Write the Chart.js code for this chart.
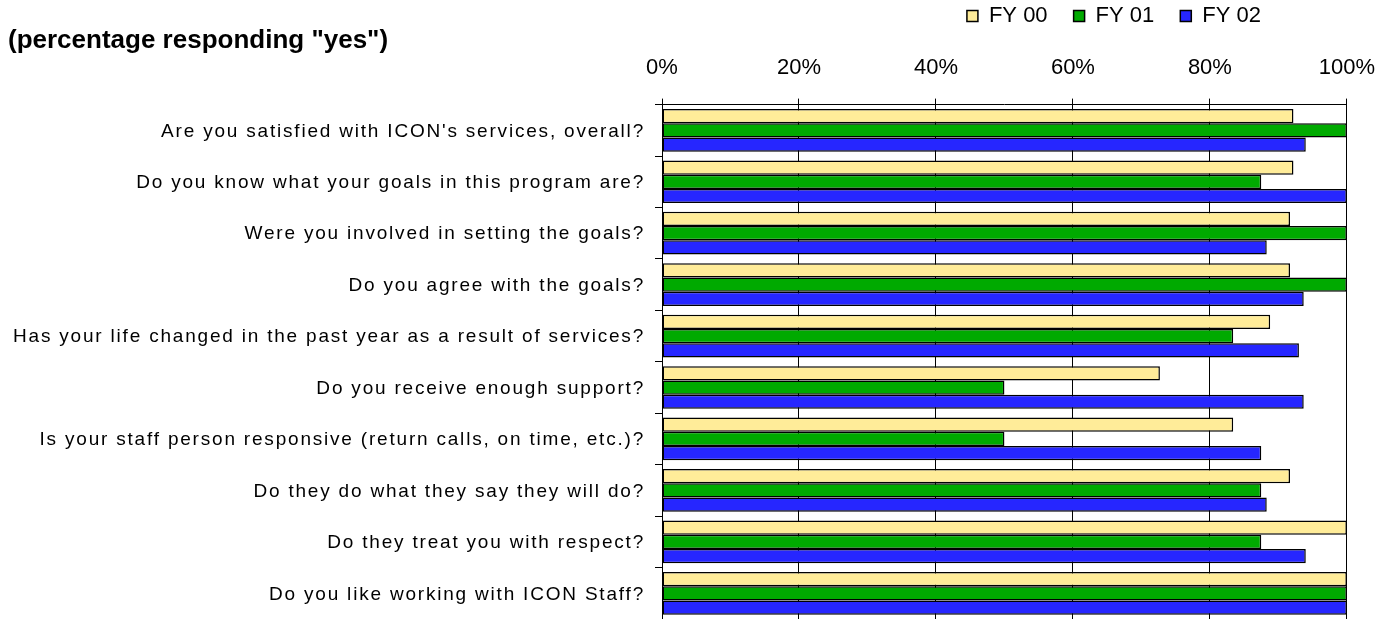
<!DOCTYPE html>
<html>
<head>
<meta charset="utf-8">
<script src="https://cdn.jsdelivr.net/npm/chart.js@4"></script>
<style>
  html, body { margin: 0; padding: 0; background: #fff; }
  #wrap { width: 1392px; height: 619px; position: relative; }
</style>
</head>
<body>
<div id="wrap"><canvas id="chart"></canvas></div>
<script>
const questions = [
  "Are you satisfied with ICON's services, overall?",
  "Do you know what your goals in this program are?",
  "Were you involved in setting the goals?",
  "Do you agree with the goals?",
  "Has your life changed in the past year as a result of services?",
  "Do you receive enough support?",
  "Is your staff person responsive (return calls, on time, etc.)?",
  "Do they do what they say they will do?",
  "Do they treat you with respect?",
  "Do you like working with ICON Staff?"
];
const fy00 = [92.2, 92.2, 91.7, 91.7, 88.8, 72.7, 83.4, 91.7, 100, 100];
const fy01 = [100, 87.5, 100, 100, 83.4, 50, 50, 87.5, 87.5, 100];
const fy02 = [94.0, 100, 88.3, 93.7, 93.0, 93.7, 87.5, 88.3, 94.0, 100];
const seriesNames = ["FY 00", "FY 01", "FY 02"];
const xTicks = [0, 20, 40, 60, 80, 100];

const FONT = "'Liberation Sans', Arial, sans-serif";
Chart.defaults.font.family = FONT;
Chart.defaults.color = "#000";

const colors = ["#FFEC99", "#00AA00", "#2626FF"];
const values = [fy00, fy01, fy02];

// question labels are drawn a bit wider than normal, like the original
const yLabels = {
  id: "yLabels",
  afterDraw(chart) {
    const s = chart.scales.y;
    const ctx = chart.ctx;
    ctx.save();
    ctx.font = "19px " + FONT;
    ctx.letterSpacing = "1.8px";
    ctx.fillStyle = "#000";
    ctx.textAlign = "right";
    ctx.textBaseline = "middle";
    s.ticks.forEach((t, i) => {
      ctx.fillText(s.getLabelForValue(t.value), s.right - 17, s.getPixelForTick(i) + 1);
    });
    ctx.restore();
  }
};

// legend sits left of the right edge, above the title line
const placeLegend = {
  id: "placeLegend",
  afterLayout(chart) {
    chart.legend.right = 1287;
  }
};

new Chart(document.getElementById("chart"), {
  type: "bar",
  data: {
    labels: questions,
    datasets: values.map((v, i) => ({
      label: seriesNames[i],
      data: v,
      backgroundColor: colors[i],
      borderColor: "#000",
      borderWidth: 1.5,
      borderSkipped: false,
      categoryPercentage: 0.83,
      barPercentage: 1.0
    }))
  },
  plugins: [yLabels, placeLegend],
  options: {
    indexAxis: "y",
    responsive: true,
    maintainAspectRatio: false,
    animation: false,
    layout: { padding: { left: 8, right: 45, top: -21, bottom: 0 } },
    plugins: {
      legend: {
        position: "top",
        align: "end",
        weight: 3000,
        labels: {
          boxWidth: 11,
          boxHeight: 11,
          padding: 26,
          font: { size: 22 },
          color: "#000"
        }
      },
      title: {
        display: true,
        text: '(percentage responding "yes")',
        align: "start",
        weight: 2000,
        font: { size: 26, weight: "bold" },
        color: "#000",
        padding: { top: -12, bottom: -18 }
      },
      tooltip: { enabled: false }
    },
    scales: {
      x: {
        position: "top",
        min: 0,
        max: 100,
        afterBuildTicks: (s) => { s.ticks = xTicks.map(v => ({ value: v })); },
        ticks: {
          callback: (v) => v + "%",
          font: { size: 22 },
          color: "#000",
          padding: 17
        },
        grid: { color: "#000", lineWidth: 1, tickLength: 6 },
        border: { color: "#000", width: 1 }
      },
      y: {
        afterFit: (s) => { s.width = 654; },
        ticks: { display: false },
        grid: { drawOnChartArea: false, color: "#000", tickLength: 7, offset: true },
        border: { color: "#000", width: 1 }
      }
    }
  }
});
</script>
</body>
</html>
